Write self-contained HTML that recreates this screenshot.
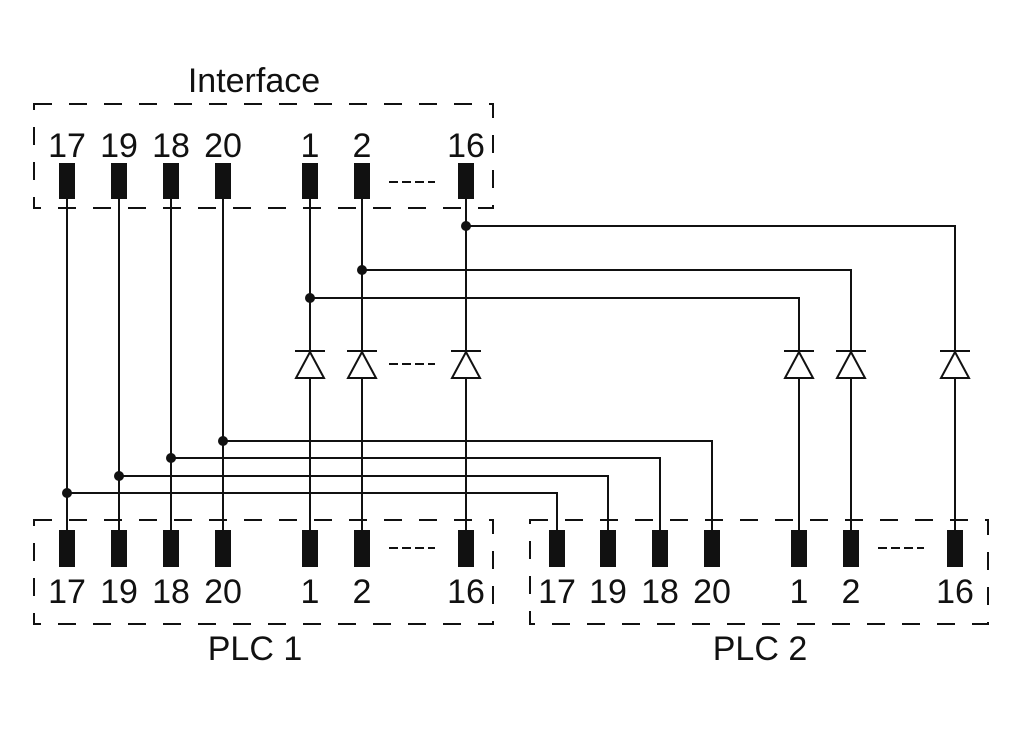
<!DOCTYPE html>
<html><head><style>html,body{margin:0;padding:0;background:#fff}svg{display:block}text{font-family:"Liberation Sans Narrow","Liberation Sans",sans-serif;font-size:34px;fill:#111}</style></head>
<body>
<svg width="1024" height="729" viewBox="0 0 1024 729" xmlns="http://www.w3.org/2000/svg">
<g fill="none" stroke="#111" stroke-width="2" stroke-dasharray="18,17">
<rect x="34" y="104" width="459" height="104"/>
<rect x="34" y="520" width="459" height="104"/>
<rect x="530" y="520" width="458" height="104"/>
</g>
<g stroke="#111" stroke-width="2" stroke-dasharray="9,4">
<line x1="389" y1="182" x2="435" y2="182"/>
<line x1="389" y1="364" x2="435" y2="364"/>
<line x1="389" y1="548" x2="435" y2="548"/>
<line x1="878" y1="548" x2="924" y2="548"/>
</g>
<g stroke="#111" stroke-width="2" fill="none">
<!-- straight verticals -->
<line x1="67" y1="199" x2="67" y2="530"/>
<line x1="119" y1="199" x2="119" y2="530"/>
<line x1="171" y1="199" x2="171" y2="530"/>
<line x1="223" y1="199" x2="223" y2="530"/>
<line x1="310" y1="199" x2="310" y2="530"/>
<line x1="362" y1="199" x2="362" y2="530"/>
<line x1="466" y1="199" x2="466" y2="530"/>
<!-- upper cross connections -->
<polyline points="466,226 955,226 955,530"/>
<polyline points="362,270 851,270 851,530"/>
<polyline points="310,298 799,298 799,530"/>
<!-- lower cross connections -->
<polyline points="223,441 712,441 712,530"/>
<polyline points="171,458 660,458 660,530"/>
<polyline points="119,476 608,476 608,530"/>
<polyline points="67,493 557,493 557,530"/>
</g>
<!-- diodes -->
<g stroke="#111" stroke-width="2" fill="#fff">
<g id="d"></g>
<polygon points="310,352 296,378 324,378"/><line x1="295" y1="351" x2="325" y2="351"/>
<polygon points="362,352 348,378 376,378"/><line x1="347" y1="351" x2="377" y2="351"/>
<polygon points="466,352 452,378 480,378"/><line x1="451" y1="351" x2="481" y2="351"/>
<polygon points="799,352 785,378 813,378"/><line x1="784" y1="351" x2="814" y2="351"/>
<polygon points="851,352 837,378 865,378"/><line x1="836" y1="351" x2="866" y2="351"/>
<polygon points="955,352 941,378 969,378"/><line x1="940" y1="351" x2="970" y2="351"/>
</g>
<!-- dots -->
<g fill="#111">
<circle cx="466" cy="226" r="5"/><circle cx="362" cy="270" r="5"/><circle cx="310" cy="298" r="5"/>
<circle cx="223" cy="441" r="5"/><circle cx="171" cy="458" r="5"/><circle cx="119" cy="476" r="5"/><circle cx="67" cy="493" r="5"/>
</g>
<!-- terminals -->
<g fill="#111">
<rect x="59" y="163" width="16" height="36"/><rect x="111" y="163" width="16" height="36"/><rect x="163" y="163" width="16" height="36"/><rect x="215" y="163" width="16" height="36"/><rect x="302" y="163" width="16" height="36"/><rect x="354" y="163" width="16" height="36"/><rect x="458" y="163" width="16" height="36"/>
<rect x="59" y="530" width="16" height="37"/><rect x="111" y="530" width="16" height="37"/><rect x="163" y="530" width="16" height="37"/><rect x="215" y="530" width="16" height="37"/><rect x="302" y="530" width="16" height="37"/><rect x="354" y="530" width="16" height="37"/><rect x="458" y="530" width="16" height="37"/>
<rect x="549" y="530" width="16" height="37"/><rect x="600" y="530" width="16" height="37"/><rect x="652" y="530" width="16" height="37"/><rect x="704" y="530" width="16" height="37"/><rect x="791" y="530" width="16" height="37"/><rect x="843" y="530" width="16" height="37"/><rect x="947" y="530" width="16" height="37"/>
</g>
<g text-anchor="middle">
<text x="254" y="92">Interface</text>
<text x="67" y="157">17</text><text x="119" y="157">19</text><text x="171" y="157">18</text><text x="223" y="157">20</text><text x="310" y="157">1</text><text x="362" y="157">2</text><text x="466" y="157">16</text>
<text x="67" y="603">17</text><text x="119" y="603">19</text><text x="171" y="603">18</text><text x="223" y="603">20</text><text x="310" y="603">1</text><text x="362" y="603">2</text><text x="466" y="603">16</text>
<text x="557" y="603">17</text><text x="608" y="603">19</text><text x="660" y="603">18</text><text x="712" y="603">20</text><text x="799" y="603">1</text><text x="851" y="603">2</text><text x="955" y="603">16</text>
<text x="255" y="660">PLC 1</text>
<text x="760" y="660">PLC 2</text>
</g>
</svg>
</body></html>
